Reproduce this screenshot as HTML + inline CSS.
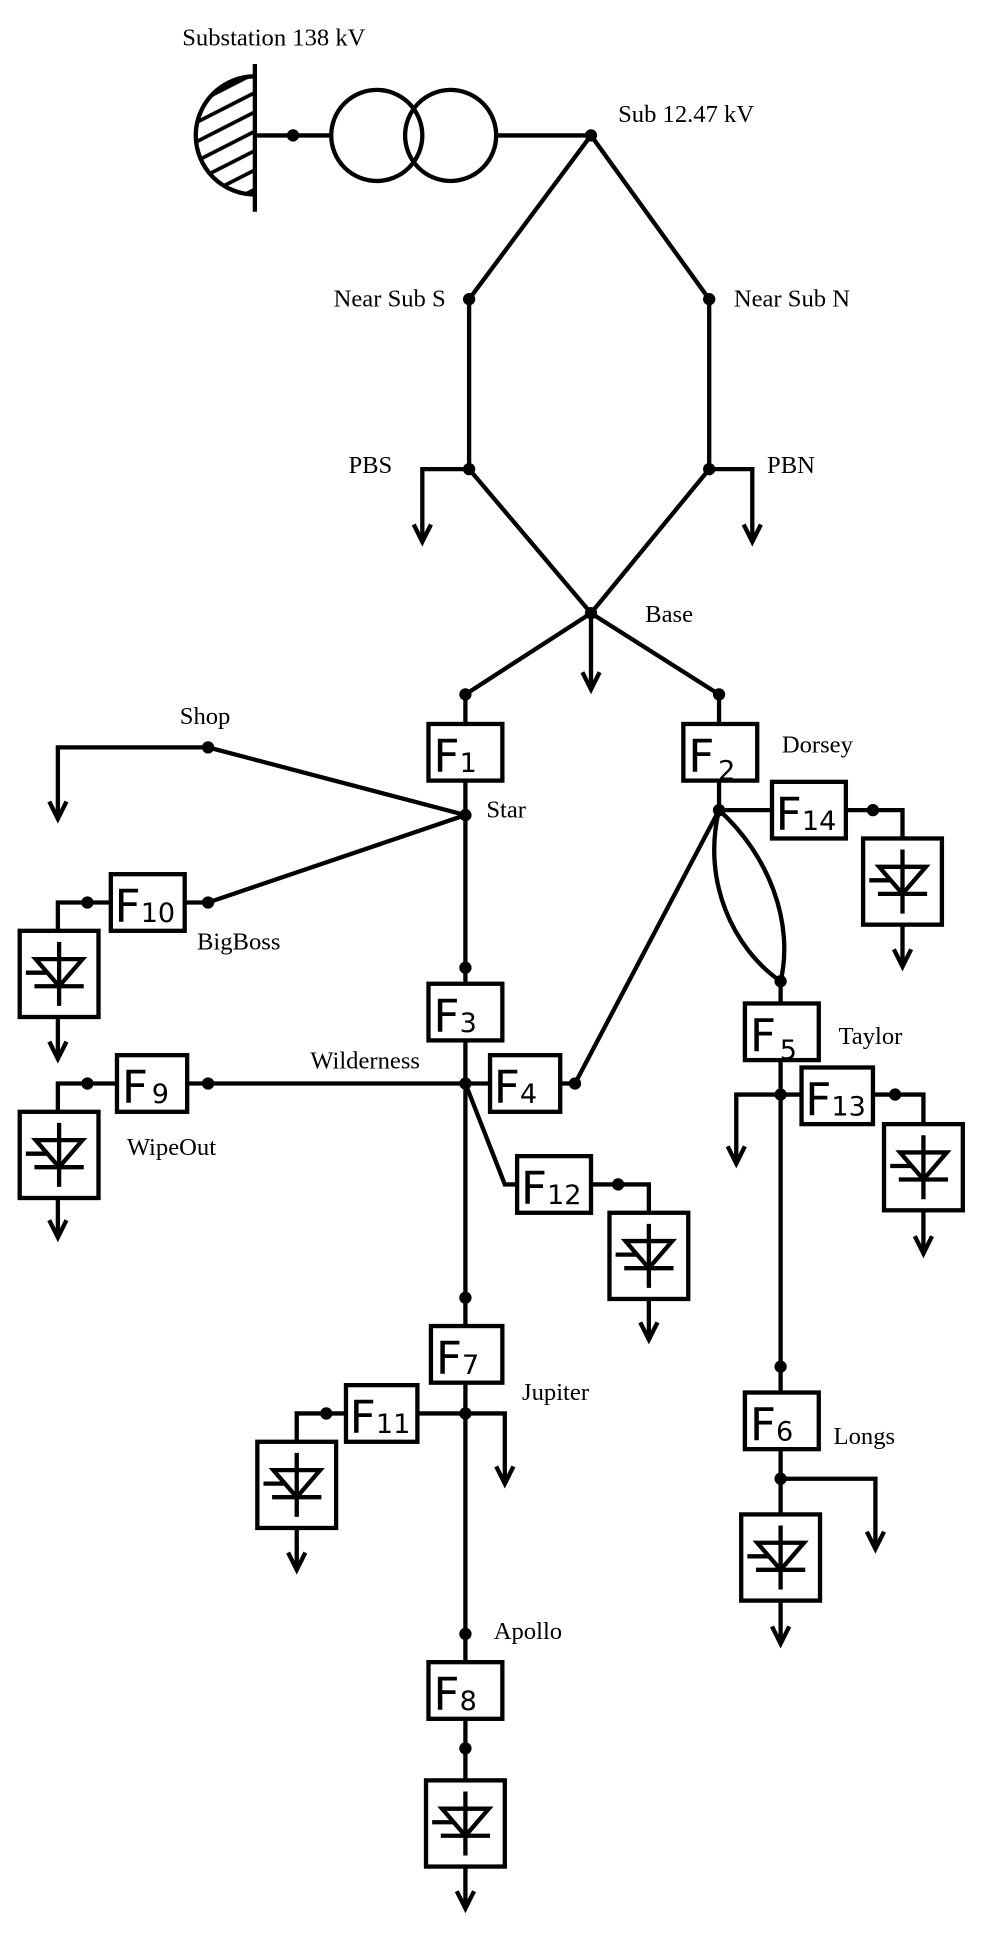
<!DOCTYPE html>
<html><head><meta charset="utf-8"><style>
html,body{margin:0;padding:0;background:#fff;}
svg{display:block;}
.l{font-family:"Liberation Serif",serif;font-size:20px;fill:#000;}
.f{font-family:"DejaVu Sans","Liberation Sans",sans-serif;font-size:37px;fill:#000;}
.s{font-size:22px;}
</style></head><body>
<svg width="985" height="1936" viewBox="0 0 800 1572.4" xmlns="http://www.w3.org/2000/svg">
<defs>
<marker id="a" markerUnits="userSpaceOnUse" markerWidth="30" markerHeight="30" refX="0" refY="0" viewBox="-15 -15 30 30" orient="auto">
<path d="M-14,-7 L0,0 L-14,7" fill="none" stroke="#000" stroke-width="3.5"/>
</marker>
<pattern id="h" patternUnits="userSpaceOnUse" width="14" height="14" patternTransform="rotate(-27)">
<line x1="0" y1="7" x2="14" y2="7" stroke="#000" stroke-width="3"/>
</pattern>
<g id="pv">
<rect x="0" y="0" width="64" height="70" fill="#fff" stroke="#000" stroke-width="3.5"/>
<line x1="32" y1="9" x2="32" y2="61" stroke="#000" stroke-width="3.5"/>
<path d="M13,23 L51,23 L32,45 Z" fill="none" stroke="#000" stroke-width="3.5" stroke-linejoin="miter"/>
<line x1="5" y1="34" x2="22" y2="34" stroke="#000" stroke-width="3.5"/>
<line x1="12" y1="45" x2="52" y2="45" stroke="#000" stroke-width="3.5"/>
</g>
</defs>
<g fill="none" stroke="#000" stroke-width="3.5">
<path d="M207,62 A48,48 0 0 0 207,158 Z" fill="url(#h)" stroke="none"/>
<path d="M207,62 A48,48 0 0 0 207,158"/>
<line x1="207" y1="52" x2="207" y2="172"/>
<line x1="207" y1="110" x2="269" y2="110"/>
<circle cx="306" cy="110" r="37"/>
<circle cx="366" cy="110" r="37"/>
<line x1="403" y1="110" x2="480" y2="110"/>
<polyline points="381,243 480,110 576,243"/>
<line x1="381" y1="243" x2="381" y2="381"/>
<line x1="576" y1="243" x2="576" y2="381"/>
<polyline points="381,381 343,381 343,440" marker-end="url(#a)"/>
<polyline points="576,381 611,381 611,440" marker-end="url(#a)"/>
<polyline points="381,381 480,498 576,381"/>
<line x1="480" y1="498" x2="480" y2="560" marker-end="url(#a)"/>
<polyline points="378,564 480,498 584,564"/>
<line x1="378" y1="564" x2="378" y2="588"/>
<line x1="584" y1="564" x2="584" y2="588"/>
<line x1="378" y1="634" x2="378" y2="799"/>
<line x1="584" y1="634" x2="584" y2="658"/>
<line x1="169" y1="607" x2="378" y2="662"/>
<polyline points="169,607 47,607 47,665" marker-end="url(#a)"/>
<line x1="169" y1="733" x2="378" y2="662"/>
<line x1="150" y1="733" x2="169" y2="733"/>
<polyline points="90,733 47,733 47,756"/>
<line x1="47" y1="826" x2="47" y2="860" marker-end="url(#a)"/>
<line x1="378" y1="845" x2="378" y2="1077"/>
<line x1="152" y1="880" x2="398" y2="880"/>
<polyline points="95,880 47,880 47,903"/>
<line x1="47" y1="972" x2="47" y2="1005" marker-end="url(#a)"/>
<line x1="455" y1="880" x2="467" y2="880"/>
<line x1="467" y1="880" x2="584" y2="658"/>
<polyline points="378,880 410,962 420,962"/>
<polyline points="480,962 527,962 527,985"/>
<line x1="527" y1="1054" x2="527" y2="1088" marker-end="url(#a)"/>
<line x1="378" y1="1123" x2="378" y2="1350"/>
<polyline points="378,1148 410,1148 410,1205" marker-end="url(#a)"/>
<line x1="339" y1="1148" x2="378" y2="1148"/>
<polyline points="281,1148 241,1148 241,1171"/>
<line x1="241" y1="1240" x2="241" y2="1275" marker-end="url(#a)"/>
<line x1="378" y1="1396" x2="378" y2="1446"/>
<line x1="378" y1="1515" x2="378" y2="1550" marker-end="url(#a)"/>
<line x1="584" y1="658" x2="627" y2="658"/>
<polyline points="687,658 733,658 733,681"/>
<line x1="733" y1="751" x2="733" y2="785" marker-end="url(#a)"/>
<path d="M584,658 C570,715 595,770 634,797"/>
<path d="M584,658 C625,695 645,750 634,797"/>
<line x1="634" y1="797" x2="634" y2="815"/>
<line x1="634" y1="861" x2="634" y2="1131"/>
<polyline points="634,889 598,889 598,945" marker-end="url(#a)"/>
<line x1="634" y1="889" x2="651" y2="889"/>
<polyline points="709,889 750,889 750,913"/>
<line x1="750" y1="983" x2="750" y2="1018" marker-end="url(#a)"/>
<line x1="634" y1="1177" x2="634" y2="1230"/>
<polyline points="634,1201 711,1201 711,1258" marker-end="url(#a)"/>
<line x1="634" y1="1300" x2="634" y2="1335" marker-end="url(#a)"/>
<g fill="#fff">
<rect x="348" y="588" width="60" height="46"/>
<rect x="555" y="588" width="60" height="46"/>
<rect x="90" y="710" width="60" height="46"/>
<rect x="348" y="799" width="60" height="46"/>
<rect x="95" y="857" width="57" height="46"/>
<rect x="398" y="857" width="57" height="46"/>
<rect x="420" y="939" width="60" height="46"/>
<rect x="627" y="635" width="60" height="46"/>
<rect x="605" y="815" width="60" height="46"/>
<rect x="651" y="867" width="58" height="46"/>
<rect x="350" y="1077" width="58" height="46"/>
<rect x="281" y="1125" width="58" height="46"/>
<rect x="605" y="1131" width="60" height="46"/>
<rect x="348" y="1350" width="60" height="46"/>
</g>
</g>
<use href="#pv" x="16" y="756"/>
<use href="#pv" x="16" y="903"/>
<use href="#pv" x="495" y="985"/>
<use href="#pv" x="209" y="1171"/>
<use href="#pv" x="346" y="1446"/>
<use href="#pv" x="701" y="681"/>
<use href="#pv" x="718" y="913"/>
<use href="#pv" x="602" y="1230"/>
<g fill="#000">
<circle cx="238" cy="110" r="5"/><circle cx="480" cy="110" r="5"/>
<circle cx="381" cy="243" r="5"/><circle cx="576" cy="243" r="5"/>
<circle cx="381" cy="381" r="5"/><circle cx="576" cy="381" r="5"/>
<circle cx="480" cy="498" r="5"/>
<circle cx="378" cy="564" r="5"/><circle cx="584" cy="564" r="5"/>
<circle cx="378" cy="662" r="5"/><circle cx="584" cy="658" r="5"/>
<circle cx="169" cy="607" r="5"/><circle cx="169" cy="733" r="5"/><circle cx="71" cy="733" r="5"/>
<circle cx="378" cy="786" r="5"/><circle cx="378" cy="880" r="5"/>
<circle cx="169" cy="880" r="5"/><circle cx="71" cy="880" r="5"/>
<circle cx="467" cy="880" r="5"/><circle cx="502" cy="962" r="5"/>
<circle cx="378" cy="1054" r="5"/><circle cx="378" cy="1148" r="5"/><circle cx="265" cy="1148" r="5"/>
<circle cx="378" cy="1327" r="5"/><circle cx="378" cy="1420" r="5"/>
<circle cx="709" cy="658" r="5"/><circle cx="634" cy="797" r="5"/>
<circle cx="634" cy="889" r="5"/><circle cx="727" cy="889" r="5"/>
<circle cx="634" cy="1110" r="5"/><circle cx="634" cy="1201" r="5"/>
</g>
<g class="f">
<text x="352" y="627">F<tspan class="s">1</tspan></text>
<text x="559" y="627">F<tspan class="s" dx="3" dy="6">2</tspan></text>
<text x="93" y="749">F<tspan class="s">10</tspan></text>
<text x="352" y="838">F<tspan class="s">3</tspan></text>
<text x="99" y="896">F<tspan class="s" dx="3">9</tspan></text>
<text x="401" y="896">F<tspan class="s">4</tspan></text>
<text x="423" y="978">F<tspan class="s">12</tspan></text>
<text x="630" y="674">F<tspan class="s">14</tspan></text>
<text x="609" y="854">F<tspan class="s" dx="3" dy="6">5</tspan></text>
<text x="654" y="906">F<tspan class="s">13</tspan></text>
<text x="354" y="1116">F<tspan class="s">7</tspan></text>
<text x="284" y="1164">F<tspan class="s">11</tspan></text>
<text x="609" y="1170">F<tspan class="s">6</tspan></text>
<text x="352" y="1389">F<tspan class="s">8</tspan></text>
</g>
<g class="l">
<text x="148" y="37">Substation 138 kV</text>
<text x="502" y="99">Sub 12.47 kV</text>
<text x="362" y="249" text-anchor="end">Near Sub S</text>
<text x="596" y="249">Near Sub N</text>
<text x="283" y="384">PBS</text>
<text x="623" y="384">PBN</text>
<text x="524" y="505">Base</text>
<text x="146" y="588">Shop</text>
<text x="635" y="611">Dorsey</text>
<text x="395" y="664">Star</text>
<text x="160" y="771">BigBoss</text>
<text x="252" y="868">Wilderness</text>
<text x="103" y="938">WipeOut</text>
<text x="681" y="848">Taylor</text>
<text x="424" y="1137">Jupiter</text>
<text x="677" y="1173">Longs</text>
<text x="401" y="1331">Apollo</text>
</g>
</svg>
</body></html>
